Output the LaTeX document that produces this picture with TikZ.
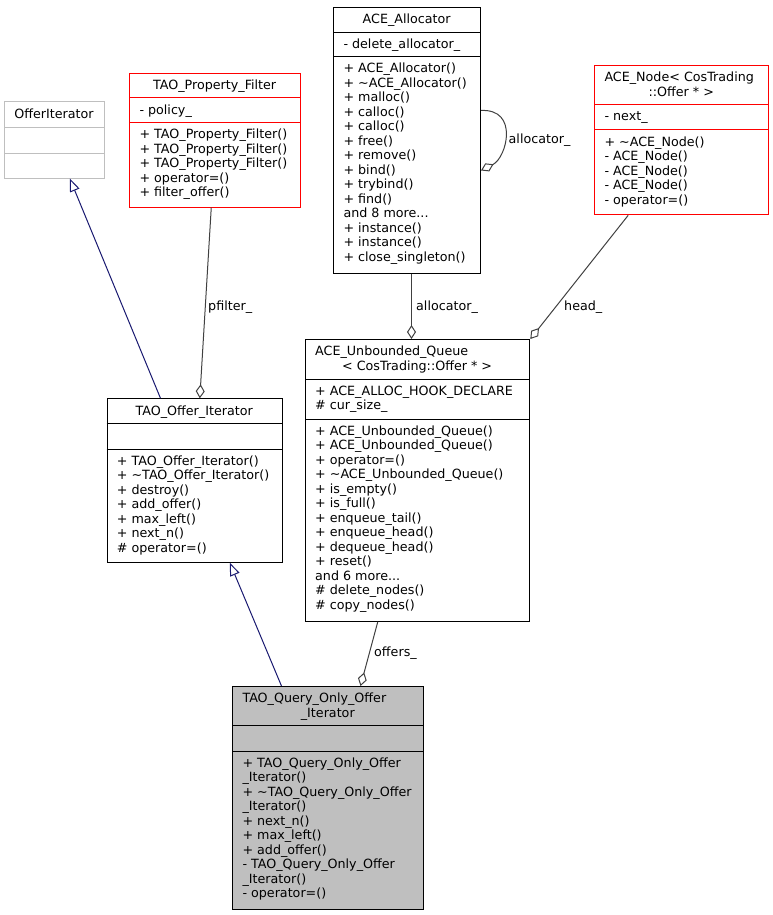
\documentclass[tikz,border=0pt]{standalone}
\usepackage{fontspec}
\setmainfont{DejaVu Sans}
\usetikzlibrary{arrows.meta}

\newcommand{\umlfont}{\fontsize{12.7}{14.5}\selectfont}
\definecolor{edgeblue}{HTML}{191970}
\definecolor{edgegray}{HTML}{404040}
\definecolor{boxgray}{HTML}{BFBFBF}
\definecolor{boxred}{HTML}{FF0000}

\tikzset{
  classbox/.style={draw, line width=1pt, fill=white, inner sep=0pt, anchor=north west},
  members/.style={anchor=north west, align=left, inner sep=0pt, font=\umlfont, execute at begin node=\strut},
  title/.style={anchor=north, inner sep=0pt, font=\umlfont, execute at begin node=\strut},
  sep/.style={line width=1pt},
  lbl/.style={anchor=base west, inner sep=0pt, font=\umlfont},
  inherit/.style={draw=edgeblue, line width=1pt, -{Triangle[open, length=13pt, width=10pt]}},
  aggr/.style={draw=edgegray, line width=1pt, -{Diamond[open, length=14pt, width=9pt]}},
}

\begin{document}
\begin{tikzpicture}[x=1pt,y=-1pt]
\useasboundingbox (0,0) rectangle (773,915);

% OfferIterator
\node[classbox, draw=boxgray, minimum width=100pt, minimum height=76pt] (offiter) at (4,101.5) {};
\draw[sep, boxgray] (4,127.3) -- ++(100,0);
\draw[sep, boxgray] (4,153) -- ++(100,0);
\node[title] (offiter-t) at (54,107.85) {OfferIterator};

% TAO_Property_Filter
\node[classbox, draw=boxred, minimum width=170.7pt, minimum height=134pt] (filter) at (129.3,72.7) {};
\draw[sep, boxred] (129.3,98) -- ++(170.7,0);
\draw[sep, boxred] (129.3,122.7) -- ++(170.7,0);
\node[title] (filter-t) at (214.65,79.05) {TAO\_Property\_Filter};
\node[members] (filter-a) at (139.3,104.35) {- policy\_};
\node[members] (filter-m) at (139.3,129.05) {+ TAO\_Property\_Filter()\\
+ TAO\_Property\_Filter()\\
+ TAO\_Property\_Filter()\\
+ operator=()\\
+ filter\_offer()};

% ACE_Allocator
\node[classbox, minimum width=146.7pt, minimum height=266pt] (alloc) at (333.3,6.7) {};
\draw[sep] (333.3,32.3) -- ++(146.7,0);
\draw[sep] (333.3,56.7) -- ++(146.7,0);
\node[title] (alloc-t) at (406.65,13.05) {ACE\_Allocator};
\node[members] (alloc-a) at (343.3,38.65) {- delete\_allocator\_};
\node[members] (alloc-m) at (343.3,63.05) {+ ACE\_Allocator()\\
+ \textasciitilde ACE\_Allocator()\\
+ malloc()\\
+ calloc()\\
+ calloc()\\
+ free()\\
+ remove()\\
+ bind()\\
+ trybind()\\
+ find()\\
and 8 more...\\
+ instance()\\
+ instance()\\
+ close\_singleton()};

% ACE_Node
\node[classbox, draw=boxred, minimum width=174pt, minimum height=149.3pt] (acenode) at (594.3,65) {};
\draw[sep, boxred] (594.3,104.3) -- ++(174,0);
\draw[sep, boxred] (594.3,130) -- ++(174,0);
\node[title, anchor=north west] (acenode-t1) at (604.3,71.35) {ACE\_Node< CosTrading};
\node[title] (acenode-t2) at (681.3,85.85) {::Offer * >};
\node[members] (acenode-a) at (604.3,110.65) {- next\_};
\node[members] (acenode-m) at (604.3,136.35) {+ \textasciitilde ACE\_Node()\\
- ACE\_Node()\\
- ACE\_Node()\\
- ACE\_Node()\\
- operator=()};

% TAO_Offer_Iterator
\node[classbox, minimum width=175pt, minimum height=163.4pt] (oti) at (106.7,398.3) {};
\draw[sep] (106.7,423.3) -- ++(175,0);
\draw[sep] (106.7,449) -- ++(175,0);
\node[title] (oti-t) at (194.2,404.65) {TAO\_Offer\_Iterator};
\node[members] (oti-m) at (116.7,455.35) {+ TAO\_Offer\_Iterator()\\
+ \textasciitilde TAO\_Offer\_Iterator()\\
+ destroy()\\
+ add\_offer()\\
+ max\_left()\\
+ next\_n()\\
\# operator=()};

% ACE_Unbounded_Queue
\node[classbox, minimum width=224.3pt, minimum height=281.7pt] (queue) at (305,339) {};
\draw[sep] (305,379.3) -- ++(224.3,0);
\draw[sep] (305,419) -- ++(224.3,0);
\node[title, anchor=north west] (queue-t1) at (315,345.35) {ACE\_Unbounded\_Queue};
\node[title] (queue-t2) at (417.15,359.85) {< CosTrading::Offer * >};
\node[members] (queue-a) at (315,385.65) {+ ACE\_ALLOC\_HOOK\_DECLARE\\
\# cur\_size\_};
\node[members] (queue-m) at (315,425.35) {+ ACE\_Unbounded\_Queue()\\
+ ACE\_Unbounded\_Queue()\\
+ operator=()\\
+ \textasciitilde ACE\_Unbounded\_Queue()\\
+ is\_empty()\\
+ is\_full()\\
+ enqueue\_tail()\\
+ enqueue\_head()\\
+ dequeue\_head()\\
+ reset()\\
and 6 more...\\
\# delete\_nodes()\\
\# copy\_nodes()};

% TAO_Query_Only_Offer_Iterator
\node[classbox, fill=boxgray, minimum width=191pt, minimum height=223.3pt] (query) at (232.3,686) {};
\draw[sep] (232.3,725.7) -- ++(191,0);
\draw[sep] (232.3,751) -- ++(191,0);
\node[title, anchor=north west] (query-t1) at (242.3,692.35) {TAO\_Query\_Only\_Offer};
\node[title] (query-t2) at (327.8,706.85) {\_Iterator};
\node[members] (query-m) at (242.3,757.35) {+ TAO\_Query\_Only\_Offer\\
\_Iterator()\\
+ \textasciitilde TAO\_Query\_Only\_Offer\\
\_Iterator()\\
+ next\_n()\\
+ max\_left()\\
+ add\_offer()\\
- TAO\_Query\_Only\_Offer\\
\_Iterator()\\
- operator=()};

% connectors
\draw[inherit] ([xshift=-34.2pt]oti.north) -- ([xshift=15.3pt]offiter.south);
\draw[inherit] ([xshift=-46.8pt]query.north) -- ([xshift=35.1pt]oti.south);
\draw[aggr] ([xshift=-3.9pt]filter.south) -- ([xshift=5.1pt]oti.north);
\draw[aggr] ([xshift=4.35pt]alloc.south) -- ([xshift=-6.15pt]queue.north);
\draw[aggr] ([xshift=-53.6pt]acenode.south) -- (queue.north east);
\draw[aggr] ([xshift=-39.85pt]queue.south) -- ([xshift=32.2pt]query.north);
\draw[aggr] ([yshift=29.7pt]alloc.east) .. controls +(38,-2) and +(26,-13) .. ([yshift=-30.3pt]alloc.east);

% labels
\node[lbl] (pfilter-l) at (208,310) {pfilter\_};
\node[lbl] (alloc-l) at (416,310) {allocator\_};
\node[lbl] (head-l) at (564,310) {head\_};
\node[lbl] (offers-l) at (374,656) {offers\_};
\node[lbl] (self-l) at (508.5,143) {allocator\_};
\end{tikzpicture}
\end{document}
